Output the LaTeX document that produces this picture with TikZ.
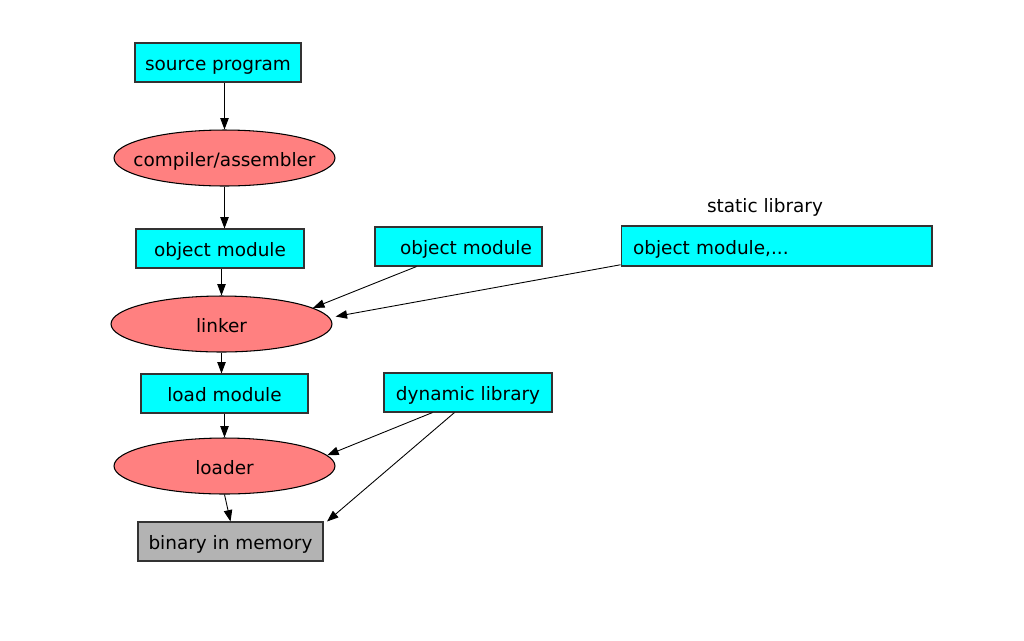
\documentclass[tikz,border=0pt]{standalone}
\usepackage{fontspec}
\setmainfont{DejaVu Sans}
\usetikzlibrary{shapes.geometric,arrows.meta,calc}
\definecolor{aqua}{HTML}{00FFFF}
\definecolor{salmon}{HTML}{FF8080}
\definecolor{memgray}{HTML}{B3B3B3}
\begin{document}
\begin{tikzpicture}
            [x=0.02cm,y=-0.02cm,font=\fontsize{10.5}{12}\selectfont,
             box/.style={rectangle,draw=black!80,line width=0.6pt,fill=aqua,minimum height=0.78cm,inner sep=0pt,text height=1.7ex,text depth=0pt},
             proc/.style={ellipse,draw=black,line width=0.6pt,fill=salmon,minimum width=4.42cm,minimum height=1.12cm,inner sep=0pt,text height=1.7ex,text depth=0pt},
             arrow/.style={line width=0.5pt,-{Triangle[length=6.5pt,width=4.8pt]}}]
            \useasboundingbox (0,0) rectangle (1024,640);
            \node[box,minimum width=3.32cm] (src) at (218,62.5) {source program};
            \node[proc] (cmp) at (224.5,158) {\makebox[0pt]{compiler/assembler}};
            \node[box,minimum width=3.36cm] (obj) at (220,248.5) {object module};
            \node[box,minimum width=3.34cm] (objb) at (458.5,246.5) {\hspace{0.3cm}object module};
            \node[text height=1.7ex,text depth=0pt] (slbl) at (765,204) {static library};
            \node[box,text width=5.74cm,inner xsep=0.24cm,align=left,minimum height=0.8cm] (stat) at (776.5,246) {object module,...};
            \node[proc] (lnk) at (221.5,324) {linker};
            \node[box,minimum width=3.34cm] (load) at (224.5,393.5) {load module};
            \node[box,minimum width=3.36cm] (dyn) at (468,392.5) {dynamic library};
            \node[proc] (ldr) at (224.5,466) {loader};
            \node[box,fill=memgray,minimum width=3.7cm] (bin) at (230.5,541.5) {binary in memory};
            \draw[arrow] (cmp.north |- src.south) -- (cmp.north);
            \draw[arrow] (cmp.south) -- (cmp.south |- obj.north);
            \draw[arrow] (lnk.north |- obj.south) -- (lnk.north);
            \draw[arrow] ($(objb.south west)!0.25!(objb.south east)$) -- (lnk.10);
            \draw[arrow] ([yshift=1pt]stat.south west) -- ([xshift=4pt]lnk.4);
            \draw[arrow] (lnk.south) -- (lnk.south |- load.north);
            \draw[arrow] (ldr.north |- load.south) -- (ldr.north);
            \draw[arrow] ($(dyn.south west)!0.29!(dyn.south east)$) -- (ldr.6);
            \draw[arrow] ($(dyn.south west)!0.42!(dyn.south east)$) -- ([xshift=2pt]bin.north east);
            \draw[arrow] (ldr.south) -- (bin.north);
        \end{tikzpicture}
\end{document}
